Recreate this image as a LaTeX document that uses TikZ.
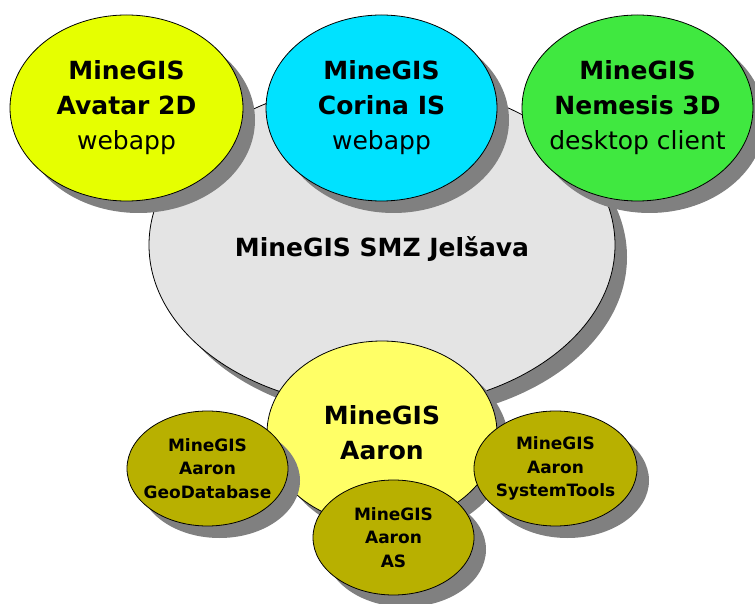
\documentclass[tikz,border=0pt]{standalone}
\usepackage{fontspec}
\setmainfont{DejaVu Sans}
\usetikzlibrary{shapes.geometric,shadows}
\definecolor{avatarcol}{RGB}{230,255,0}
\definecolor{corinacol}{RGB}{0,226,255}
\definecolor{nemesiscol}{RGB}{64,232,64}
\definecolor{smzcol}{RGB}{228,228,228}
\definecolor{aaroncol}{RGB}{255,255,102}
\definecolor{partcol}{RGB}{184,176,0}
\definecolor{shadowcol}{RGB}{128,128,128}

\begin{document}
\begin{tikzpicture}[x=1pt,y=-1pt]
\tikzstyle{every node}=[align=center,inner sep=-30pt]
\tikzstyle{blob}=[ellipse,draw=black,line width=0.8pt,drop shadow={shadow xshift=12pt,shadow yshift=-12pt,fill=shadowcol,opacity=1}]
\tikzstyle{bigtext}=[font=\fontsize{25}{35}\selectfont\bfseries]
\tikzstyle{smalltext}=[font=\fontsize{17}{23.5}\selectfont\bfseries]
\useasboundingbox (0,0) rectangle (755,604);
% the mine in the middle
\node[blob,fill=smzcol,minimum width=466pt,minimum height=326pt,bigtext,text height=29pt] (smz) at (382,245) {MineGIS SMZ Jel\v{s}ava};
% clients on top
\node[blob,fill=avatarcol,minimum width=233pt,minimum height=186pt,bigtext] (avatar) at (126.5,108) {MineGIS\\Avatar 2D\\\mdseries webapp};
\node[blob,fill=corinacol,minimum width=231pt,minimum height=186pt,bigtext] (corina) at (381.5,108) {MineGIS\\Corina IS\\\mdseries webapp};
\node[blob,fill=nemesiscol,minimum width=231pt,minimum height=186pt,bigtext] (nemesis) at (637.5,108) {MineGIS\\Nemesis 3D\\\mdseries desktop client};
% server and its parts
\node[blob,fill=aaroncol,minimum width=230pt,minimum height=184pt,bigtext] (aaron) at (382,433) {MineGIS\\Aaron};
\node[blob,fill=partcol,minimum width=161pt,minimum height=115pt,smalltext] (geodb) at (207.5,468.5) {MineGIS\\Aaron\\GeoDatabase};
\node[blob,fill=partcol,minimum width=163pt,minimum height=115pt,smalltext] (systools) at (555.5,468.5) {MineGIS\\Aaron\\SystemTools};
\node[blob,fill=partcol,minimum width=161pt,minimum height=115pt,smalltext] (aaronas) at (393.5,537.5) {MineGIS\\Aaron\\AS};
\end{tikzpicture}
\end{document}
